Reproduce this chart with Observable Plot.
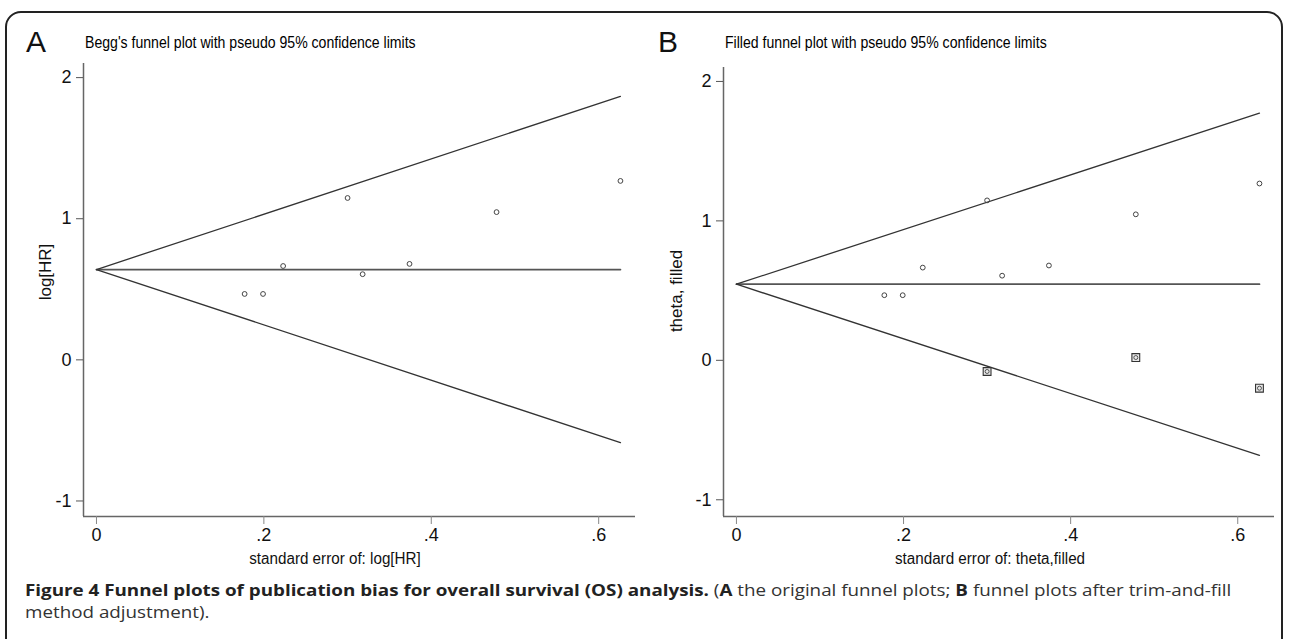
<!DOCTYPE html>
<html>
<head>
<meta charset="utf-8">
<script src="https://cdn.jsdelivr.net/npm/d3@7"></script>
<script src="https://cdn.jsdelivr.net/npm/@observablehq/plot@0.6"></script>
<style>
  html, body { margin: 0; padding: 0; background: #fff; }
  #fig { position: relative; width: 1289px; height: 639px; overflow: hidden; background: #fff; }
  .box { position: absolute; left: 5px; top: 11px; width: 1278px; height: 700px; border: 2px solid #222; border-radius: 16px; box-sizing: border-box; }
  .panel { position: absolute; top: 0; }
  .lbl { position: absolute; font-family: "Liberation Sans", Arial, sans-serif; font-size: 30px; color: #111; line-height: 1; }
  .ttl { position: absolute; font-family: "Liberation Sans", Arial, sans-serif; font-size: 16px; color: #000; white-space: nowrap; line-height: 1; transform: scaleX(0.88); transform-origin: 0 50%; }
  .ytl { position: absolute; font-family: "Liberation Sans", Arial, sans-serif; font-size: 17px; color: #111; white-space: nowrap; line-height: 1; transform: translate(-50%, -50%) rotate(-90deg); }
  .xtl { position: absolute; font-family: "Liberation Sans", Arial, sans-serif; font-size: 16px; color: #111; white-space: nowrap; line-height: 1; transform: translate(-50%, -50%) scaleX(0.95); }
  .cap { position: absolute; left: 25px; top: 579px; font-family: "Open Sans", sans-serif; font-size: 15.8px; line-height: 22px; color: #333; white-space: nowrap; transform: scaleX(1.19); transform-origin: 0 0; }
  .cap b { color: #222; }
</style>
</head>
<body>
<div id="fig">
  <div class="box"></div>
  <div class="lbl" style="left:26px; top:27px;">A</div>
  <div class="ttl" style="left:85px; top:35px;">Begg's funnel plot with pseudo 95% confidence limits</div>
  <div class="lbl" style="left:658px; top:27px;">B</div>
  <div class="ttl" style="left:725px; top:35px;">Filled funnel plot with pseudo 95% confidence limits</div>
  <div class="panel" id="pa" style="left:0px;"></div>
  <div class="panel" id="pb" style="left:640px;"></div>
  <div class="ytl" style="left:45px; top:272px;">log[HR]</div>
  <div class="ytl" style="left:676px; top:291px;">theta, filled</div>
  <div class="xtl" style="left:335px; top:559px;">standard error of: log[HR]</div>
  <div class="xtl" style="left:990px; top:559px;">standard error of: theta,filled</div>
  <div class="cap"><b>Figure 4 Funnel plots of publication bias for overall survival (OS) analysis.</b> (<b>A</b> the original funnel plots; <b>B</b> funnel plots after trim-and-fill<br>method adjustment).</div>
</div>
<script>
// ---- data ----
const studySE    = [0.177, 0.199, 0.223, 0.300, 0.318, 0.374, 0.478, 0.626];
const studyLogHR = [0.467, 0.467, 0.665, 1.147, 0.607, 0.680, 1.047, 1.268];

const filledSE    = [0.300, 0.478, 0.626];
const filledTheta = [-0.08, 0.02, -0.20];

const funnelSE    = [0, 0.626];
const pooledA     = [0.64, 0.64];
const upperA      = [0.64, 1.867];
const lowerA      = [0.64, -0.587];
const pooledB     = [0.546, 0.546];
const upperB      = [0.546, 1.773];
const lowerB      = [0.546, -0.681];

const xTicks      = [0, 0.2, 0.4, 0.6];
const xTickLabels = ["0", ".2", ".4", ".6"];
const yTicks      = [-1, 0, 1, 2];
const yTickLabels = ["-1", "0", "1", "2"];

const xDomain  = [-0.0155, 0.644];
const yDomainA = [-1.11, 2.1];
const yDomainB = [-1.12, 2.1];

const studies = studySE.map((s, i) => ({se: s, v: studyLogHR[i]}));
const filled  = filledSE.map((s, i) => ({se: s, v: filledTheta[i]}));

const FONT = '"Liberation Sans", Arial, sans-serif';

function panel(opts) {
  const marks = [
    Plot.ruleX([opts.xDomain[0]], {stroke: "#666", strokeWidth: 1.5}),
    Plot.ruleY([opts.yDomain[0]], {stroke: "#666", strokeWidth: 1.5}),
    Plot.axisY({ticks: yTicks, tickFormat: (d) => yTickLabels[yTicks.indexOf(d)], tickSize: 7, tickPadding: 5, label: null, stroke: "#555", fontSize: 18}),
    Plot.axisX({ticks: xTicks, tickFormat: (d) => xTickLabels[xTicks.indexOf(d)], tickSize: 8, tickPadding: 4, label: null, stroke: "#888", fontSize: 18}),
    Plot.line(funnelSE, {x: funnelSE, y: opts.pooled, stroke: "#555", strokeWidth: 1.8}),
    Plot.line(funnelSE, {x: funnelSE, y: opts.upper, stroke: "#333", strokeWidth: 1.3}),
    Plot.line(funnelSE, {x: funnelSE, y: opts.lower, stroke: "#333", strokeWidth: 1.3}),
    Plot.dot(studies, {x: "se", y: "v", r: 2.4, stroke: "#444", strokeWidth: 1, fill: "none"})
  ];
  if (opts.filled) {
    marks.push(Plot.dot(opts.filled, {x: "se", y: "v", symbol: "square", r: 4.4, stroke: "#333", strokeWidth: 1.1, fill: "#e8e8e8"}));
    marks.push(Plot.dot(opts.filled, {x: "se", y: "v", r: 2, stroke: "#444", strokeWidth: 0.9, fill: "none"}));
  }
  return Plot.plot({
    width: 640,
    height: 639,
    marginLeft: 83,
    marginRight: opts.marginRight,
    marginTop: opts.marginTop,
    marginBottom: 123,
    style: {fontFamily: FONT, fontSize: "18px", color: "#111", background: "transparent", overflow: "visible"},
    x: {domain: opts.xDomain},
    y: {domain: opts.yDomain},
    marks
  });
}

document.getElementById("pa").appendChild(panel({
  xDomain, yDomain: yDomainA, pooled: pooledA, upper: upperA, lower: lowerA, marginTop: 63, marginRight: 5
}));
document.getElementById("pb").appendChild(panel({
  xDomain, yDomain: yDomainB, pooled: pooledB, upper: upperB, lower: lowerB, marginTop: 67, marginRight: 6, filled
}));
</script>
</body>
</html>
